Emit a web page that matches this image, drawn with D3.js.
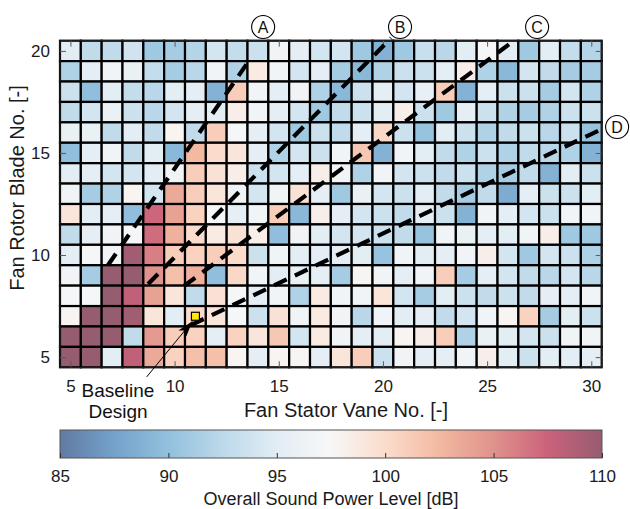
<!DOCTYPE html>
<html>
<head>
<meta charset="utf-8">
<script src="https://cdn.jsdelivr.net/npm/d3@7"></script>
<style>
  html, body { margin: 0; padding: 0; background: #fff; }
  svg { display: block; font-family: "Liberation Sans", Arial, Helvetica, sans-serif; }
</style>
</head>
<body>
<svg id="chart" width="630" height="509"></svg>
<script>
// Stator vane counts (columns) and rotor blade counts (rows)
const vaneCounts = d3.range(5, 31);
const bladeCounts = d3.range(20, 4, -1);

// Overall sound power level [dB]; one row per blade count, top (20) to bottom (5),
// each row listing vane counts 5..30
const level20 = [95.0,92.8,92.8,93.8,90.8,91.2,92.0,94.0,93.0,93.5,96.8,95.3,94.0,94.0,90.8,88.8,90.8,93.3,92.3,95.0,97.3,95.0,90.8,95.0,93.0,92.0];
const level19 = [91.8,95.3,96.8,96.0,93.0,91.2,92.3,96.8,91.8,98.7,96.8,94.0,95.3,91.2,89.3,91.8,93.5,93.5,95.3,98.3,91.8,89.3,94.0,92.8,91.2,91.2];
const level18 = [93.5,89.8,95.0,93.0,92.3,95.0,95.3,88.8,101.0,96.8,95.3,96.8,91.8,89.3,93.5,95.3,94.0,95.8,101.0,88.8,95.3,93.5,93.5,91.2,94.0,91.8];
const level17 = [92.8,94.0,96.0,93.5,92.3,94.0,95.3,95.0,98.3,96.8,95.3,94.0,90.8,92.8,93.5,95.0,98.3,93.5,90.8,95.3,93.5,91.8,91.2,91.8,93.5,93.5];
const level16 = [96.0,96.0,92.8,95.0,92.8,97.8,92.8,101.0,97.3,95.3,94.0,90.8,93.5,92.8,95.3,100.3,93.5,90.3,95.0,93.5,91.8,92.8,93.5,92.3,93.5,90.3];
const level15 = [89.8,95.3,96.8,92.8,95.0,89.3,102.5,100.0,99.2,95.3,91.8,94.0,93.5,96.8,101.5,88.8,96.8,95.0,92.8,91.8,93.5,91.8,92.8,92.3,91.8,88.8];
const level14 = [95.0,95.3,94.0,94.0,95.0,96.8,101.0,99.5,98.3,93.5,94.0,95.3,98.3,96.8,91.8,96.8,94.0,93.5,92.8,93.5,91.8,91.2,92.8,88.8,95.0,93.5];
const level13 = [96.8,91.2,91.8,97.8,94.0,103.5,101.0,99.2,96.5,94.0,96.8,99.5,95.3,90.8,96.0,94.0,93.5,95.0,92.8,91.2,92.8,88.3,95.3,93.5,93.5,95.0];
const level12 = [99.2,95.0,95.3,89.8,107.3,104.0,100.7,97.3,95.5,96.8,101.0,89.3,98.3,95.3,94.0,93.5,92.8,95.3,93.5,88.8,96.8,95.3,94.0,93.5,96.8,96.8];
const level11 = [92.8,95.3,96.8,97.3,107.0,103.0,100.0,98.7,99.5,98.3,89.8,96.8,95.0,94.0,94.0,93.5,92.8,90.3,96.8,96.0,95.3,95.0,96.8,98.3,90.8,90.8];
const level10 = [95.3,97.3,96.8,109.5,106.0,101.0,100.7,101.0,100.0,93.5,96.8,95.0,95.3,95.3,95.0,90.3,96.8,95.0,95.3,96.8,98.3,94.0,90.8,94.0,93.5,91.8];
const level9  = [96.8,91.2,110.0,110.0,105.0,102.0,103.0,89.8,100.3,96.8,95.0,96.0,95.3,91.2,97.8,96.8,95.3,96.8,101.0,91.2,95.3,94.0,92.8,92.3,94.0,92.3];
const level8  = [97.3,97.3,110.0,108.0,104.0,99.2,92.8,99.5,97.3,95.3,96.8,91.8,98.7,96.8,96.8,99.2,94.0,91.2,95.0,93.5,92.8,93.5,92.8,95.3,95.3,96.8];
const level7  = [97.8,110.0,110.0,109.5,99.2,95.0,100.0,99.2,97.3,93.5,99.5,96.8,98.7,96.8,92.3,96.8,95.0,95.3,92.8,94.0,96.8,97.8,100.7,91.2,95.0,93.5];
const level6  = [110.0,110.0,110.0,92.8,104.5,101.0,100.7,95.3,100.7,99.2,101.5,94.0,98.7,96.8,95.3,95.0,97.8,98.3,101.0,91.8,96.0,95.0,94.0,93.5,96.8,96.8];
const level5  = [110.0,110.0,95.0,108.0,103.5,100.7,102.0,102.0,97.8,95.3,97.8,97.8,95.3,99.2,101.0,93.5,96.8,95.3,95.3,96.8,98.3,95.0,93.5,95.0,95.0,95.3];
const levelRows = [level20, level19, level18, level17, level16, level15, level14, level13,
                   level12, level11, level10, level9, level8, level7, level6, level5];

// Axis ticks
const xTicks = [5, 10, 15, 20, 25, 30];
const yTicks = [5, 10, 15, 20];
const colorTicks = [85, 90, 95, 100, 105, 110];

// Constant-ratio guide lines, given by their end points (vanes, blades)
const guideNames = ["A", "B", "C", "D"];
const guideStart = [[6.8, 9.5], [8.73, 8.58], [10.45, 8.48], [10.79, 6.57]];
const guideEnd   = [[13.53, 19.46], [20.39, 20.63], [26.34, 20.54], [30.42, 16.13]];
const guideLabelAt = [[14.25, 21.17], [20.82, 21.17], [27.4, 21.17], [31.24, 16.27]];

// Baseline design point and its callout
const baseline = [11, 7];
const calloutTail = [8.66, 4.03];
const calloutText = ["Baseline", "Design"];

// Diverging colour map
const cmapStops = [85, 87.5, 90, 92.5, 95, 97.5, 100, 102.5, 105, 107.5, 110];
const cmapColors = ["#617aa2", "#74a2cb", "#92c0dd", "#bcd9ea", "#e2edf4", "#f7f7f7",
                    "#fbdccc", "#f3b9a1", "#e0928c", "#cb627b", "#965c70"];

const svg = d3.select("#chart");
const plot = { left: 60, right: 601.7, top: 40.7, bottom: 367.3 };
const ink = "#1a1a1a";
const fontFam = "Liberation Sans, Arial, sans-serif";

const color = d3.scaleLinear().domain(cmapStops).range(cmapColors)
  .interpolate(d3.interpolateRgb).clamp(true);

const xBand = d3.scaleBand().domain(vaneCounts).range([plot.left, plot.right]).padding(0);
const yBand = d3.scaleBand().domain(bladeCounts).range([plot.top, plot.bottom]).padding(0);
const xLin = d3.scaleLinear().domain([4.5, 30.5]).range([plot.left, plot.right]);
const yLin = d3.scaleLinear().domain([4.5, 20.5]).range([plot.bottom, plot.top]);

// Cells
const cells = [];
levelRows.forEach((row, i) => row.forEach((v, j) => cells.push({ x: vaneCounts[j], y: bladeCounts[i], v })));

svg.append("g").selectAll("rect").data(cells).join("rect")
  .attr("x", d => xBand(d.x))
  .attr("y", d => yBand(d.y))
  .attr("width", xBand.bandwidth())
  .attr("height", yBand.bandwidth())
  .attr("fill", d => color(d.v))
  .attr("stroke", "#000")
  .attr("stroke-width", 2.2);

// Axes frame with inward ticks
const tickColor = "#5a5a5a";
svg.append("rect")
  .attr("x", plot.left).attr("y", plot.top)
  .attr("width", plot.right - plot.left).attr("height", plot.bottom - plot.top)
  .attr("fill", "none").attr("stroke", "#262626").attr("stroke-width", 1);

function styleAxis(g, withText) {
  g.select(".domain").remove();
  g.selectAll("line").attr("stroke", tickColor);
  if (withText) g.selectAll("text").attr("font-size", 17).attr("fill", ink).attr("font-family", fontFam);
}

svg.append("g").attr("transform", `translate(0,${plot.bottom})`)
  .call(d3.axisBottom(xLin).tickValues(xTicks).tickSizeInner(-6).tickSizeOuter(0).tickPadding(13))
  .call(g => styleAxis(g, true));
svg.append("g").attr("transform", `translate(0,${plot.top})`)
  .call(d3.axisTop(xLin).tickValues(xTicks).tickSizeInner(-6).tickSizeOuter(0).tickFormat(""))
  .call(g => styleAxis(g, false));
svg.append("g").attr("transform", `translate(${plot.left},0)`)
  .call(d3.axisLeft(yLin).tickValues(yTicks).tickSizeInner(-6).tickSizeOuter(0).tickPadding(10))
  .call(g => styleAxis(g, true));
svg.append("g").attr("transform", `translate(${plot.right},0)`)
  .call(d3.axisRight(yLin).tickValues(yTicks).tickSizeInner(-6).tickSizeOuter(0).tickFormat(""))
  .call(g => styleAxis(g, false));

// Axis titles
svg.append("text")
  .attr("x", 346).attr("y", 417)
  .attr("text-anchor", "middle").attr("font-size", 20).attr("fill", ink)
  .text("Fan Stator Vane No. [-]");
svg.append("text")
  .attr("transform", `translate(24,${(plot.top + plot.bottom) / 2 - 16}) rotate(-90)`)
  .attr("text-anchor", "middle").attr("font-size", 20).attr("fill", ink)
  .text("Fan Rotor Blade No. [-]");

// Guide lines
const guides = guideNames.map((n, i) => ({ name: n, a: guideStart[i], b: guideEnd[i], lab: guideLabelAt[i] }));
svg.append("g").selectAll("line").data(guides).join("line")
  .attr("x1", d => xLin(d.a[0])).attr("y1", d => yLin(d.a[1]))
  .attr("x2", d => xLin(d.b[0])).attr("y2", d => yLin(d.b[1]))
  .attr("stroke", "#000").attr("stroke-width", 4.2)
  .attr("stroke-dasharray", "14,9");

const labG = svg.append("g").selectAll("g").data(guides).join("g")
  .attr("transform", d => `translate(${xLin(d.lab[0])},${yLin(d.lab[1])})`);
labG.append("circle").attr("r", 11.5).attr("fill", "#fff").attr("stroke", "#000").attr("stroke-width", 1.1);
labG.append("text").attr("text-anchor", "middle").attr("dy", "0.36em")
  .attr("font-size", 16).attr("fill", "#111").text(d => d.name);

// Baseline callout arrow
const defs = svg.append("defs");
defs.append("marker").attr("id", "arrowHead")
  .attr("viewBox", "0 0 16 10").attr("refX", 16).attr("refY", 5)
  .attr("markerWidth", 16).attr("markerHeight", 10)
  .attr("markerUnits", "userSpaceOnUse").attr("orient", "auto")
  .append("path").attr("d", "M0,0 L16,5 L0,10 L4,5 Z").attr("fill", "#000");

svg.append("line")
  .attr("x1", xLin(calloutTail[0])).attr("y1", yLin(calloutTail[1]))
  .attr("x2", xLin(baseline[0]) - 3).attr("y2", yLin(baseline[1]) + 5)
  .attr("stroke", "#000").attr("stroke-width", 1)
  .attr("marker-end", "url(#arrowHead)");

svg.append("rect")
  .attr("x", xLin(baseline[0]) - 4).attr("y", yLin(baseline[1]) - 4)
  .attr("width", 8).attr("height", 8)
  .attr("fill", "#ffee00").attr("stroke", "#000").attr("stroke-width", 1.2);

svg.append("g").selectAll("text").data(calloutText).join("text")
  .attr("x", 118).attr("y", (d, i) => 397 + i * 21)
  .attr("text-anchor", "middle").attr("font-size", 19).attr("fill", "#111")
  .text(d => d);

// Colour bar
const cb = { left: 60, right: 602, top: 430, bottom: 458 };
const grad = defs.append("linearGradient").attr("id", "cbGrad")
  .attr("x1", "0%").attr("x2", "100%").attr("y1", "0%").attr("y2", "0%");
d3.range(0, 1.0001, 0.02).forEach(t => {
  grad.append("stop").attr("offset", `${t * 100}%`).attr("stop-color", color(85 + t * 25));
});
svg.append("rect")
  .attr("x", cb.left).attr("y", cb.top)
  .attr("width", cb.right - cb.left).attr("height", cb.bottom - cb.top)
  .attr("fill", "url(#cbGrad)").attr("stroke", "#555").attr("stroke-width", 1);

const cbScale = d3.scaleLinear().domain([85, 110]).range([cb.left, cb.right]);
svg.append("g").attr("transform", `translate(0,${cb.bottom})`)
  .call(d3.axisBottom(cbScale).tickValues(colorTicks).tickSizeInner(-5).tickSizeOuter(0).tickPadding(12))
  .call(g => {
    g.select(".domain").remove();
    g.selectAll("line").attr("stroke", "#333");
    g.selectAll("text").attr("font-size", 17).attr("fill", ink).attr("font-family", fontFam);
  });

svg.append("text")
  .attr("x", (cb.left + cb.right) / 2).attr("y", 505)
  .attr("text-anchor", "middle").attr("font-size", 18).attr("fill", ink)
  .text("Overall Sound Power Level [dB]");
</script>
</body>
</html>
